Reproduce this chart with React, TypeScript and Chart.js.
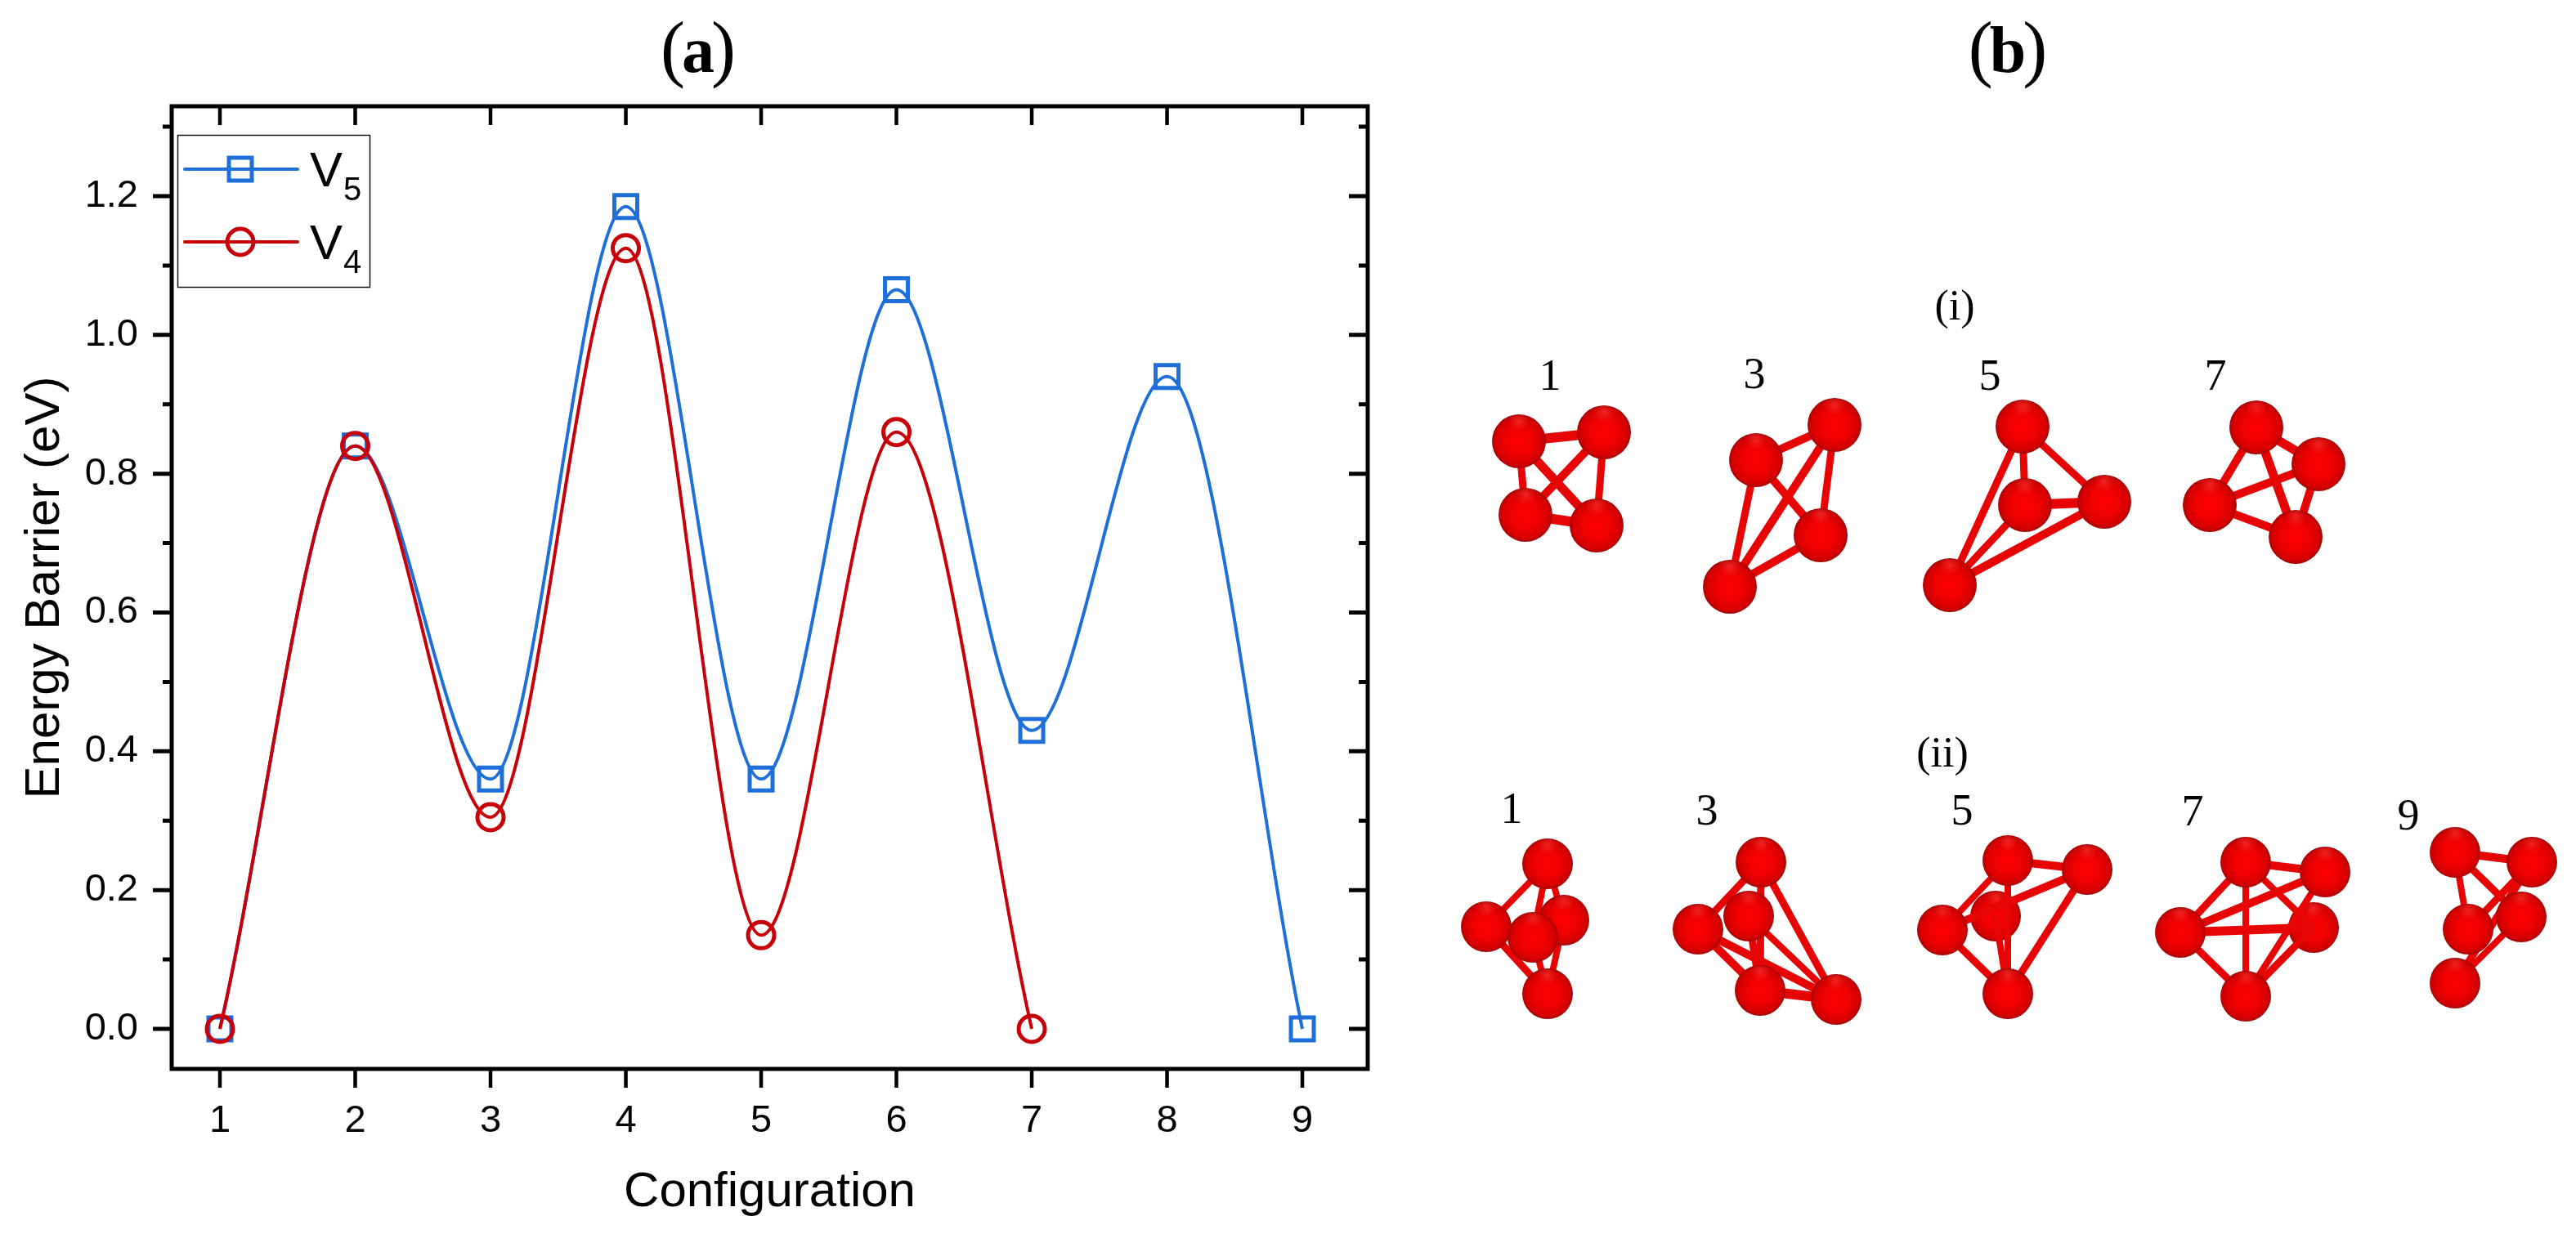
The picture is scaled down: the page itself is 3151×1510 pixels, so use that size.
import React, { useEffect, useRef } from "react";
import { Chart, registerables } from "chart.js";

Chart.register(...registerables);

// ---------- panel (a) data ----------
const configurations = [1, 2, 3, 4, 5, 6, 7, 8, 9];
const v5Values = [0, 0.84, 0.36, 1.185, 0.36, 1.065, 0.43, 0.94, 0];
const v4Values = [0, 0.84, 0.305, 1.125, 0.135, 0.86, 0];
const xTicks = [1, 2, 3, 4, 5, 6, 7, 8, 9];
const yTicks = [0, 0.2, 0.4, 0.6, 0.8, 1.0, 1.2];
const yMinorTicks = [0.1, 0.3, 0.5, 0.7, 0.9, 1.1, 1.3];
const xTitle = "Configuration";
const yTitle = "Energy Barrier (eV)";

// ---------- panel (b) data: reference pixel space ----------
type Mol = { atoms: number[][]; bonds: number[][]; back: number[]; r: number };
const molI1: Mol = { r: 33, back: [],
  atoms: [[1858, 540], [1962, 529], [1866, 630], [1953, 643]],
  bonds: [[0, 1, 12], [0, 2, 9], [0, 3, 11], [1, 2, 10], [1, 3, 9], [2, 3, 12]] };
const molI3: Mol = { r: 33, back: [],
  atoms: [[2244, 520], [2148, 563], [2227, 655], [2116, 718]],
  bonds: [[0, 1, 10], [0, 2, 9], [0, 3, 10], [1, 2, 10], [1, 3, 9], [2, 3, 10]] };
const molI5: Mol = { r: 33, back: [],
  atoms: [[2474, 522], [2574, 614], [2477, 618], [2385, 716]],
  bonds: [[0, 2, 9], [0, 1, 9], [0, 3, 9], [2, 1, 12], [2, 3, 9], [1, 3, 10]] };
const molI7: Mol = { r: 33, back: [],
  atoms: [[2760, 523], [2836, 568], [2703, 618], [2808, 657]],
  bonds: [[0, 1, 11], [0, 2, 10], [0, 3, 11], [1, 2, 10], [1, 3, 10], [2, 3, 10]] };
const molII1: Mol = { r: 31, back: [],
  atoms: [[1913, 1126], [1818, 1134], [1893, 1057], [1893, 1216], [1875, 1147]],
  bonds: [[2, 1, 8], [2, 4, 8], [2, 0, 8], [1, 4, 8], [1, 3, 9], [0, 3, 8], [4, 3, 8]] };
const molII3: Mol = { r: 31, back: [],
  atoms: [[2139, 1121], [2154, 1055], [2077, 1137], [2153, 1212], [2246, 1223]],
  bonds: [[1, 2, 9], [1, 4, 9], [0, 4, 8], [0, 3, 9], [2, 3, 10], [2, 4, 10], [3, 4, 12], [1, 3, 9]] };
const molII5: Mol = { r: 31, back: [0],
  atoms: [[2441, 1121], [2456, 1053], [2553, 1064], [2376, 1138], [2456, 1216]],
  bonds: [[1, 2, 10], [1, 3, 8], [1, 4, 8], [0, 4, 8], [2, 3, 10], [2, 4, 9], [3, 4, 9]] };
const molII7: Mol = { r: 31, back: [0],
  atoms: [[2830, 1135], [2747, 1055], [2844, 1067], [2667, 1141], [2747, 1219]],
  bonds: [[1, 2, 10], [1, 3, 9], [1, 4, 8], [1, 0, 8], [2, 3, 10], [2, 4, 8], [3, 0, 11], [3, 4, 9], [0, 4, 9]] };
const molII9: Mol = { r: 31, back: [],
  atoms: [[3003, 1203], [3084, 1122], [3003, 1043], [3097, 1055], [3019, 1137]],
  bonds: [[2, 3, 10], [2, 4, 8], [2, 1, 9], [3, 4, 9], [1, 0, 8], [3, 0, 9]] };
const molecules = [molI1, molI3, molI5, molI7, molII1, molII3, molII5, molII7, molII9];

const sectionLabels = [
  { text: "(i)", x: 2391, y: 391 },
  { text: "(ii)", x: 2376, y: 938 },
];
const moleculeLabels = [
  { text: "1", x: 1896, y: 477 }, { text: "3", x: 2146, y: 475 },
  { text: "5", x: 2434, y: 477 }, { text: "7", x: 2710, y: 477 },
  { text: "1", x: 1849, y: 1007 }, { text: "3", x: 2088, y: 1009 },
  { text: "5", x: 2400, y: 1009 }, { text: "7", x: 2682, y: 1010 },
  { text: "9", x: 2946, y: 1015 },
];

// ---------- style ----------
const BLUE = "#1e6fd9";
const RED = "#c8000a";
const SANS = '"Liberation Sans", Arial, sans-serif';
const SERIF = '"Liberation Serif", "Times New Roman", serif';
const W = 3151;
const H = 1510;
const SPLIT = 1760;

function drawPanelTitle(ctx: CanvasRenderingContext2D, letter: string, cx: number, base: number) {
  const regular = `400 90px ${SERIF}`;
  const bold = `700 80px ${SERIF}`;
  const tuck = 4;
  ctx.save();
  ctx.fillStyle = "#000";
  ctx.textAlign = "left";
  ctx.textBaseline = "alphabetic";
  ctx.font = regular;
  const po = ctx.measureText("(").width;
  const pc = ctx.measureText(")").width;
  ctx.font = bold;
  const lw = ctx.measureText(letter).width;
  let x = cx - (po + pc + lw - 2 * tuck) / 2;
  ctx.font = regular;
  ctx.fillText("(", x, base + 1);
  x += po - tuck;
  ctx.font = bold;
  ctx.fillText(letter, x, base);
  x += lw - tuck;
  ctx.font = regular;
  ctx.fillText(")", x, base + 1);
  ctx.restore();
}

const framePlugin = {
  id: "frame",
  afterDatasetsDraw(chart: any) {
    const { ctx, chartArea: a, scales } = chart;
    const { x, y } = scales;
    ctx.save();
    ctx.strokeStyle = "#000";
    ctx.lineCap = "butt";
    // x ticks (outer at the bottom, inner at the top)
    ctx.lineWidth = 4.5;
    xTicks.forEach((t) => {
      const px = x.getPixelForValue(t);
      ctx.beginPath();
      ctx.moveTo(px, a.bottom);
      ctx.lineTo(px, a.bottom + 23);
      ctx.moveTo(px, a.top);
      ctx.lineTo(px, a.top + 23);
      ctx.stroke();
    });
    // y ticks (outer at the left, inner at the right)
    ctx.lineWidth = 5;
    const yMark = (t: number, len: number) => {
      const py = y.getPixelForValue(t);
      ctx.beginPath();
      ctx.moveTo(a.left, py);
      ctx.lineTo(a.left - len, py);
      ctx.moveTo(a.right, py);
      ctx.lineTo(a.right - len, py);
      ctx.stroke();
    };
    yTicks.forEach((t) => yMark(t, 23));
    yMinorTicks.forEach((t) => yMark(t, 11));
    ctx.lineWidth = 5;
    ctx.strokeRect(a.left, a.top, a.right - a.left, a.bottom - a.top);

    // legend
    ctx.lineWidth = 1.5;
    ctx.fillStyle = "#fff";
    ctx.fillRect(217, 165, 236, 186);
    ctx.strokeStyle = "#111";
    ctx.strokeRect(217.5, 165.5, 235, 186);
    const rows = [
      { ds: chart.data.datasets[0], ly: 207, base: 228, subBase: 245, shape: "rect" },
      { ds: chart.data.datasets[1], ly: 296, base: 317, subBase: 334, shape: "circle" },
    ];
    rows.forEach((r) => {
      ctx.strokeStyle = r.ds.borderColor;
      ctx.lineWidth = 4;
      ctx.lineCap = "round";
      ctx.beginPath();
      ctx.moveTo(226, r.ly);
      ctx.lineTo(364, r.ly);
      ctx.stroke();
      ctx.lineWidth = 5;
      ctx.lineCap = "butt";
      ctx.beginPath();
      if (r.shape === "rect") ctx.rect(294 - 14, r.ly - 14, 28, 28);
      else ctx.arc(294, r.ly, 16, 0, Math.PI * 2);
      ctx.stroke();
      ctx.fillStyle = "#000";
      ctx.textAlign = "left";
      ctx.textBaseline = "alphabetic";
      ctx.font = `60px ${SANS}`;
      ctx.fillText(r.ds.label[0], 379, r.base);
      ctx.font = `40px ${SANS}`;
      ctx.fillText(r.ds.label[1], 420, r.subBase);
    });
    ctx.restore();
    drawPanelTitle(ctx, "a", 854, 88);
  },
};

const moleculeText = {
  id: "moleculeText",
  afterDatasetsDraw(chart: any) {
    const { ctx, scales } = chart;
    ctx.save();
    ctx.fillStyle = "#000";
    ctx.textAlign = "center";
    ctx.textBaseline = "alphabetic";
    ctx.font = `52px ${SERIF}`;
    sectionLabels.forEach((l) =>
      ctx.fillText(l.text, scales.x.getPixelForValue(l.x), scales.y.getPixelForValue(l.y)));
    ctx.font = `54px ${SERIF}`;
    moleculeLabels.forEach((l) =>
      ctx.fillText(l.text, scales.x.getPixelForValue(l.x), scales.y.getPixelForValue(l.y)));
    ctx.restore();
    drawPanelTitle(ctx, "b", 2456 - SPLIT, 88);
  },
};

function makeAtom(r: number) {
  const c = document.createElement("canvas");
  c.width = c.height = r * 2 + 2;
  const g = c.getContext("2d")!;
  const m = r + 1;
  const grad = g.createRadialGradient(m, m, 0, m, m, r);
  grad.addColorStop(0, "#ff0000");
  grad.addColorStop(0.5, "#f00000");
  grad.addColorStop(0.88, "#d40000");
  grad.addColorStop(1, "#a00808");
  g.fillStyle = grad;
  g.beginPath();
  g.arc(m, m, r, 0, Math.PI * 2);
  g.fill();
  const hi = g.createRadialGradient(m, m - r * 0.75, 0, m, m - r * 0.75, r * 0.4);
  hi.addColorStop(0, "rgba(255,70,70,0.5)");
  hi.addColorStop(1, "rgba(255,60,60,0)");
  g.fillStyle = hi;
  g.beginPath();
  g.arc(m, m, r - 1, 0, Math.PI * 2);
  g.fill();
  return c;
}

export default function App() {
  const aRef = useRef<HTMLCanvasElement>(null);
  const bRef = useRef<HTMLCanvasElement>(null);

  useEffect(() => {
    const chartA = new Chart(aRef.current!, {
      type: "line",
      data: {
        datasets: [
          {
            label: "V5",
            data: v5Values.map((y, i) => ({ x: configurations[i], y })),
            borderColor: BLUE,
            borderWidth: 4,
            cubicInterpolationMode: "monotone",
            pointStyle: "rect",
            pointRadius: 19.8,
            pointBorderWidth: 5,
            pointBorderColor: BLUE,
            pointBackgroundColor: "transparent",
            backgroundColor: "transparent",
            clip: false,
            order: 2,
          },
          {
            label: "V4",
            data: v4Values.map((y, i) => ({ x: configurations[i], y })),
            borderColor: RED,
            borderWidth: 4,
            cubicInterpolationMode: "monotone",
            pointStyle: "circle",
            pointRadius: 16,
            pointBorderWidth: 5,
            pointBorderColor: RED,
            pointBackgroundColor: "transparent",
            backgroundColor: "transparent",
            clip: false,
            order: 1,
          },
        ] as any,
      },
      options: {
        animation: false,
        responsive: false,
        events: [],
        layout: { autoPadding: false, padding: { left: 0, top: 130, right: SPLIT - 1673, bottom: 0 } },
        plugins: { legend: { display: false }, tooltip: { enabled: false }, title: { display: false } },
        scales: {
          x: {
            type: "linear",
            min: 0.6435,
            max: 9.483,
            grid: { display: false, drawTicks: false },
            border: { display: false },
            afterBuildTicks: (s: any) => { s.ticks = xTicks.map((value) => ({ value })); },
            afterFit: (s: any) => { s.height = H - 1308; },
            ticks: {
              autoSkip: false,
              maxRotation: 0,
              padding: 36,
              color: "#000",
              font: { family: SANS, size: 47 },
              callback: (v: any) => String(v),
            },
            title: {
              display: true,
              text: xTitle,
              color: "#000",
              font: { family: SANS, size: 60 },
              padding: { top: 0, bottom: 15 },
            },
          },
          y: {
            type: "linear",
            min: -0.0577,
            max: 1.3295,
            grid: { display: false, drawTicks: false },
            border: { display: false },
            afterBuildTicks: (s: any) => { s.ticks = yTicks.map((value) => ({ value })); },
            afterFit: (s: any) => { s.width = 210; },
            ticks: {
              autoSkip: false,
              padding: 41,
              color: "#000",
              font: { family: SANS, size: 47 },
              callback: (v: any) => Number(v).toFixed(1),
            },
            title: {
              display: true,
              text: yTitle,
              color: "#000",
              font: { family: SANS, size: 60 },
              padding: { top: 19, bottom: 0 },
            },
          },
        },
      } as any,
      plugins: [framePlugin],
    });

    const datasets: any[] = [];
    molecules.forEach((m) => {
      const sprite = makeAtom(m.r);
      const pts = m.atoms.map(([x, y]) => ({ x, y }));
      const atomSet = (data: any[], order: number) => ({
        type: "scatter",
        data,
        showLine: false,
        pointStyle: sprite,
        pointRadius: m.r,
        clip: false,
        order,
      });
      datasets.push(atomSet(pts.filter((_, i) => m.back.includes(i)), 3));
      m.bonds.forEach(([a, b, w]) =>
        datasets.push({
          type: "line",
          data: [pts[a], pts[b]],
          borderColor: "#e60404",
          borderWidth: w,
          pointRadius: 0,
          tension: 0,
          clip: false,
          order: 2,
        }));
      datasets.push(atomSet(pts.filter((_, i) => !m.back.includes(i)), 1));
    });

    const chartB = new Chart(bRef.current!, {
      type: "scatter",
      data: { datasets },
      options: {
        animation: false,
        responsive: false,
        events: [],
        layout: { autoPadding: false, padding: 0 },
        plugins: { legend: { display: false }, tooltip: { enabled: false } },
        scales: {
          x: { type: "linear", display: false, min: SPLIT, max: W },
          y: { type: "linear", display: false, min: 0, max: H, reverse: true },
        },
      } as any,
      plugins: [moleculeText],
    });

    return () => {
      chartA.destroy();
      chartB.destroy();
    };
  }, []);

  return (
    <div style={{ position: "absolute", left: 0, top: 0, width: W, height: H, background: "#fff", overflow: "hidden" }}>
      <canvas ref={aRef} width={SPLIT} height={H} style={{ position: "absolute", left: 0, top: 0 }} />
      <canvas ref={bRef} width={W - SPLIT} height={H} style={{ position: "absolute", left: SPLIT, top: 0 }} />
    </div>
  );
}
